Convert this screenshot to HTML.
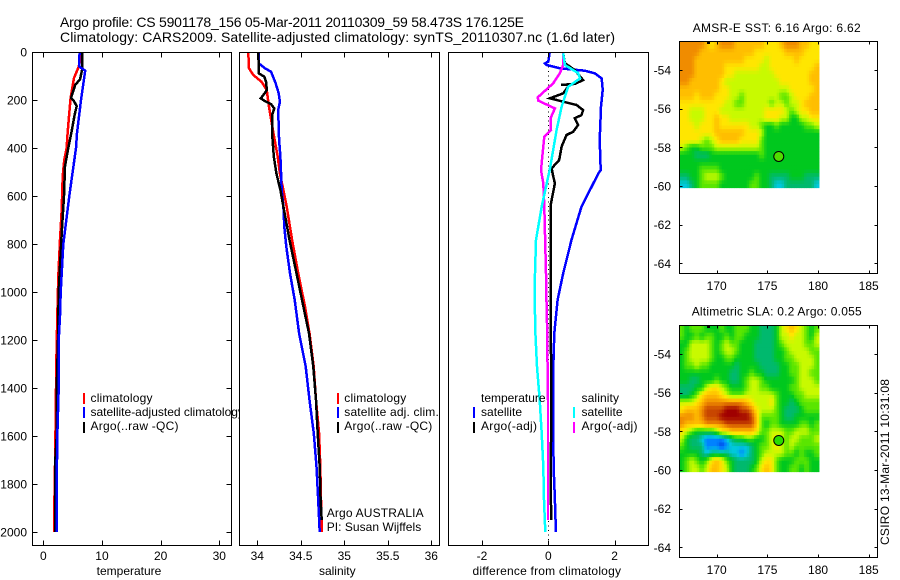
<!DOCTYPE html>
<html lang="en">
<head>
<meta charset="utf-8">
<title>Argo profile comparison</title>
<style>
html,body{margin:0;padding:0;background:#fff;}
svg{display:block;}
text{font-family:"Liberation Sans",sans-serif;font-size:12px;fill:#000;}
</style>
</head>
<body>
<svg id="chart" xmlns="http://www.w3.org/2000/svg" width="900" height="580" viewBox="0 0 900 580">
  <text x="60" y="27" style="font-size:14px" textLength="464" lengthAdjust="spacing">Argo profile: CS 5901178_156 05-Mar-2011 20110309_59 58.473S 176.125E</text>
  <text x="60" y="42" style="font-size:14px" textLength="555" lengthAdjust="spacing">Climatology: CARS2009. Satellite-adjusted climatology: synTS_20110307.nc (1.6d later)</text>
  <text transform="translate(889,545) rotate(-90)" textLength="166" lengthAdjust="spacing">CSIRO 13-Mar-2011 10:31:08</text>
</svg>
<script>
// ---- depth axis ticks ----
const depthTicks = [0,200,400,600,800,1000,1200,1400,1600,1800,2000];
const tempTicks = [0,10,20,30];
const salTicks = [34,34.5,35,35.5,36];
const salTickLabels = ["34","34.5","35","35.5","36"];
const diffTicks = [-2,0,2];
const lonTicks = [170,175,180,185];
const latTicks = [-54,-56,-58,-60,-62,-64];

// ---- temperature panel ----
const tempClimDepth = [4,66,108,150,192,268,338,400,448,518,657,782,935,1100,1300,1650,1900,2000];
const tempClimValue = [6.64,5.97,5.23,4.94,4.66,4.38,4.15,3.98,3.58,3.3,3.13,2.85,2.56,2.39,2.22,2.05,1.88,1.88];
const tempSatDepth = [4,20,60,78,200,338,400,600,800,1000,1100,1200,1400,1600,1800,2000];
const tempSatValue = [6.25,6.08,6.08,7.15,6.42,5.74,5.57,4.43,3.41,2.96,2.85,2.62,2.62,2.38,2.28,2.28];
const tempArgoDepth = [4,70,115,136,192,205,226,260,338,400,476,600,755,893,1000,1200,1400,1600,1700,2000];
const tempArgoValue = [6.64,6.64,6.25,5.45,4.72,5.23,5.69,5.35,4.77,4.26,3.7,3.53,3.13,2.85,2.62,2.5,2.28,2.28,2.05,2.05];

// ---- salinity panel ----
const salClimDepth = [4,68,96,124,158,228,297,367,436,506,575,644,783,922,1061,1172,1311,1450,1589,1728,1866,2000];
const salClimValue = [33.897,33.905,33.954,34.05,34.108,34.134,34.166,34.2,34.234,34.26,34.3,34.338,34.4,34.47,34.548,34.6,34.648,34.675,34.71,34.724,34.732,34.744];
const salSatDepth = [4,47,68,82,130,172,207,242,367,436,575,644,728,811,922,1033,1172,1311,1450,1589,1728,1866,2000];
const salSatValue = [34.016,34.016,34.088,34.157,34.21,34.246,34.26,34.24,34.25,34.265,34.28,34.3,34.31,34.333,34.376,34.43,34.48,34.556,34.6,34.65,34.68,34.7,34.717];
const salArgoDepth = [4,89,103,124,158,179,193,203,217,235,263,339,436,506,575,644,783,922,1061,1172,1311,1450,1589,1728,1866,1950];
const salArgoValue = [34.012,34.018,34.08,34.1,34.11,34.07,34.04,34.08,34.157,34.195,34.17,34.17,34.19,34.22,34.265,34.3,34.37,34.45,34.53,34.594,34.644,34.675,34.694,34.717,34.728,34.74];

// ---- difference panel ----
const diffTempSatDepth = [4,40,47,54,68,78,89,110,158,228,367,492,506,561,644,783,922,1033,1172,1311,1589,1728,1866,2000];
const diffTempSatValue = [0.04,0,-0.1,-0.05,0.35,1.1,1.41,1.61,1.64,1.59,1.55,1.58,1.51,1.31,1,0.7,0.45,0.28,0.18,0.15,0.15,0.16,0.2,0.23];
const diffTempArgoDepth = [5,47,75,117,133,137,135,172,193,207,221,242,263,276,304,332,346,394,450,485,519,547,630,783,1061,1400,1500,1800,1950];
const diffTempArgoValue = [0.45,0.5,0.8,1.05,0.8,0.38,0.65,0.45,0.05,0.45,0.855,1.05,1,0.8,0.9,0.75,0.55,0.4,0.33,0.1,0.15,0.2,0.08,0.07,0.07,0.09,0.09,0.07,0.09];
const diffSalSatDepth = [5,54,88,110,145,228,325,485,644,783,922,1033,1172,1311,1450,1589,1728,1866,2000];
const diffSalSatValue = [0.45,0.5,0.9,0.955,0.6,0.4,0.25,0.05,-0.2,-0.37,-0.4,-0.41,-0.39,-0.34,-0.26,-0.2,-0.15,-0.13,-0.09];
const diffSalArgoDepth = [5,54,88,130,189,203,235,276,325,353,436,492,547,644,922,1061,1130,1450,1950];
const diffSalArgoValue = [0.45,0.45,0.35,0.15,-0.32,-0.3,0.2,0.07,0.08,-0.12,-0.18,-0.22,-0.15,-0.12,-0.07,-0.05,-0.04,-0.01,-0.01];

// ---- maps (colour class per cell, north to south, west to east) ----
const sstGrid = [
[9,9,9,9,9,8,7,8,9,9,9,8,8,8,8,8,8,7,7,7,8,9,9,9,8,8,7,7],
[9,9,9,9,8,8,8,8,8,8,8,8,8,8,8,7,7,7,7,7,7,8,8,8,8,7,7,7],
[9,9,9,8,8,8,8,8,8,8,8,8,8,7,7,7,7,6,7,7,7,7,7,8,7,7,7,7],
[9,9,9,8,8,8,8,8,8,7,7,7,7,7,7,7,6,6,7,7,7,7,7,7,7,7,7,8],
[9,9,9,8,8,8,8,8,8,7,7,6,6,6,6,6,6,6,6,7,7,7,7,7,7,7,8,8],
[9,9,8,8,8,8,8,8,7,6,6,6,6,6,6,6,6,6,6,6,7,7,7,7,7,7,8,8],
[8,8,8,8,8,8,8,8,7,7,6,6,6,6,6,6,6,6,6,6,6,6,7,7,7,7,7,8],
[8,8,8,7,8,8,8,7,7,7,6,6,5,6,6,6,6,6,6,6,5,5,6,7,7,7,8,8],
[7,7,7,7,7,7,7,7,7,6,6,5,5,6,6,6,6,6,5,6,6,5,6,6,7,8,8,8],
[7,7,6,6,6,7,7,7,6,6,6,6,6,6,6,6,6,7,7,7,7,6,5,6,7,7,8,8],
[7,7,6,6,6,7,7,8,7,7,6,6,6,6,6,6,6,7,7,7,6,6,4,4,6,6,7,7],
[7,7,7,6,7,7,7,8,7,7,7,7,7,7,6,6,5,4,4,5,4,4,4,4,4,5,5,6],
[7,7,7,7,7,7,7,8,8,8,8,8,8,7,7,7,6,4,4,4,4,4,4,4,4,4,4,4],
[7,7,7,7,6,5,6,7,8,8,8,8,7,7,7,7,5,4,4,4,4,4,4,4,4,4,4,4],
[6,5,4,4,5,5,5,6,6,6,6,6,6,6,6,6,5,4,4,4,4,4,4,4,4,4,4,4],
[4,4,4,3,3,3,4,4,4,4,4,4,4,4,4,4,5,4,4,4,4,4,4,4,4,4,4,4],
[4,4,4,4,4,4,4,4,4,4,4,4,4,4,4,4,4,4,4,4,4,4,4,4,4,4,4,4],
[4,4,4,4,5,5,5,5,4,4,4,4,4,4,4,4,4,4,4,4,4,4,4,4,4,4,4,4],
[3,3,4,4,5,6,6,6,5,4,4,4,4,4,4,5,4,4,3,3,3,3,4,4,4,3,3,3],
[2,2,3,4,5,5,5,5,4,4,4,4,4,4,5,5,4,4,3,2,2,3,3,3,3,3,3,2]
];
const slaGrid = [
[5,4,5,5,5,4,4,4,5,4,4,5,5,5,4,4,3,3,3,4,6,7,8,7,6,5,4,5],
[5,4,4,5,4,5,5,4,4,5,4,5,5,4,4,4,3,3,3,4,6,6,7,6,6,5,4,6],
[4,4,6,6,6,6,5,4,5,6,5,5,4,4,4,3,3,3,3,4,5,6,6,6,6,5,5,6],
[4,5,6,6,6,6,5,4,5,6,6,5,4,4,4,3,3,3,3,4,4,5,6,6,6,6,5,5],
[4,5,6,6,6,6,5,4,4,5,5,4,4,4,4,3,3,3,3,4,4,5,5,6,6,6,6,5],
[4,5,5,6,5,5,4,4,4,4,4,3,4,4,4,4,3,3,3,3,4,4,5,5,6,6,6,5],
[4,4,4,4,4,4,4,4,4,4,3,3,4,4,5,4,4,3,3,3,4,4,5,5,6,6,5,5],
[4,4,3,3,4,4,4,5,4,4,3,3,4,5,6,6,5,4,4,4,4,4,4,5,6,6,6,5],
[3,3,3,4,4,6,7,7,6,5,4,4,4,5,6,6,5,5,4,4,4,4,5,5,6,6,6,6],
[3,3,4,5,7,8,8,8,7,6,5,5,5,6,6,6,6,6,6,5,4,4,4,5,5,6,6,6],
[6,6,6,7,8,9,9,9,9,9,9,9,9,8,7,6,6,6,7,5,4,4,3,4,5,5,5,5],
[7,8,8,8,9,10,10,10,10,11,11,11,10,10,9,7,6,6,6,5,4,3,3,3,4,5,5,5],
[9,9,9,8,9,10,10,10,11,11,11,11,11,11,10,8,5,5,5,5,4,3,3,4,4,4,4,4],
[9,8,8,8,8,9,9,9,9,10,10,10,10,10,10,8,5,4,5,5,4,4,4,4,5,5,4,5],
[7,6,5,4,4,4,4,5,7,7,8,8,8,8,8,7,5,5,6,6,6,5,5,6,6,6,5,5],
[6,4,3,3,2,1,1,1,1,2,3,4,4,5,5,4,4,5,6,7,6,5,6,6,5,5,5,6],
[5,4,3,3,3,1,1,1,0,1,2,2,2,2,3,4,5,5,6,7,6,5,6,5,5,5,5,5],
[4,4,4,4,3,2,3,3,3,3,2,2,1,2,3,4,5,6,6,6,6,5,5,4,5,4,4,5],
[4,5,6,5,4,5,7,8,7,5,4,3,3,3,3,4,6,7,7,5,4,4,4,5,5,5,4,4],
[4,5,6,6,5,6,8,8,7,6,4,3,3,3,4,5,7,8,7,5,4,4,5,5,4,5,4,4]
];
const mapPaletteRgb = [[0,60,224],[0,130,255],[0,200,220],[0,185,110],[0,200,30],[90,230,0],[200,250,0],[255,230,0],[255,190,0],[240,140,0],[200,70,0],[160,0,0]];
const floatLon = 176.125;
const floatLat = -58.473;

// ---- helpers ----
const svg = document.getElementById('chart');
const NS = 'http://www.w3.org/2000/svg';
function linear(d0, d1, r0, r1) { return v => r0 + (v - d0) * (r1 - r0) / (d1 - d0); }
const depthY = linear(0, 2000, 52, 532);
function mk(tag, attrs, parent) {
  const el = document.createElementNS(NS, tag);
  for (const k in attrs) el.setAttribute(k, attrs[k]);
  (parent || svg).appendChild(el);
  return el;
}
function label(str, x, y, anchor, parent, fitWidth) {
  const t = mk('text', {x: x, y: y, 'text-anchor': anchor || 'start'}, parent);
  if (fitWidth) {
    t.setAttribute('textLength', fitWidth);
    t.setAttribute('lengthAdjust', 'spacing');
  }
  t.textContent = str;
  return t;
}
function profile(group, xScale, depths, values, colour, name) {
  const pts = depths.map((d, i) => xScale(values[i]).toFixed(1) + ',' + depthY(d).toFixed(1)).join(' ');
  const el = mk('polyline', {points: pts, fill: 'none', stroke: colour, 'stroke-width': 2.5, 'stroke-linejoin': 'miter', 'shape-rendering': 'crispEdges'}, group);
  
  
}
function swatch(group, x, y, colour, name) {
  const el = mk('rect', {x: x, y: y, width: 2, height: 11, fill: colour}, group);
  
  
}
function legendText(group, str, x, y, name, fitWidth) {
  const el = label(str, x, y, 'start', group, fitWidth);
  
  
}
function tickMark(group, x1, y1, x2, y2) {
  const el = mk('line', {x1: x1, y1: y1, x2: x2, y2: y2, stroke: '#000', 'stroke-width': 1, 'shape-rendering': 'crispEdges'}, group);
  
  
}
function profileAxes(group, x, w, xScale, ticks, tickLabels, title, titleX, yTicks, titleFit) {
  const top = 52.5, bottom = 545.5;
  const frame = mk('rect', {x: x, y: top, width: w, height: bottom - top, fill: 'none', stroke: '#000', 'stroke-width': 1, 'shape-rendering': 'crispEdges'}, group);
  
  
  ticks.forEach((t, i) => {
    const px = Math.round(xScale(t)) + 0.5;
    tickMark(group, px, top, px, top + 5);
    tickMark(group, px, bottom, px, bottom - 5);
    const tl = label(tickLabels[i], xScale(t), 560, 'middle', group);
    
    
  });
  if (yTicks) {
    depthTicks.forEach(d => {
      const py = Math.round(depthY(d)) + 0.5;
      tickMark(group, x, py, x + 5, py);
      tickMark(group, x + w, py, x + w - 5, py);
      const yl = label(String(d), 27, depthY(d) + 4.5, 'end', group);
      
      
    });
  }
  const at = label(title, titleX, 575, 'middle', group, titleFit);
  
  
}
function panelBackground(group, x, w) {
  const bg = mk('rect', {x: x, y: 52.5, width: w, height: 493, fill: '#fff'}, group);
  
  
}

// ---- temperature panel ----
const tempX = linear(0, 30, 43.3, 219.3);
const gT = mk('g', {});


panelBackground(gT, 32.5, 199);
profile(gT, tempX, tempClimDepth, tempClimValue, '#ff0000', 'temperature-climatology-line');
profile(gT, tempX, tempArgoDepth, tempArgoValue, '#000000', 'temperature-argo-line');
profile(gT, tempX, tempSatDepth, tempSatValue, '#0000ff', 'temperature-satellite-line');
profileAxes(gT, 32.5, 199, tempX, tempTicks, tempTicks.map(String), 'temperature', 129, true);
swatch(gT, 83, 393, '#ff0000', 'legend-swatch-climatology');
swatch(gT, 83, 407, '#0000ff', 'legend-swatch-satellite');
swatch(gT, 83, 422, '#000000', 'legend-swatch-argo');
legendText(gT, 'climatology', 90.5, 402, 'legend-entry-climatology', 62);
legendText(gT, 'satellite-adjusted climatology', 90.5, 416, 'legend-entry-satellite');
legendText(gT, 'Argo(..raw -QC)', 90.5, 430, 'legend-entry-argo', 88);

// ---- salinity panel ----
const salX = linear(34, 36, 257.3, 431.3);
const gS = mk('g', {});


panelBackground(gS, 239.5, 200);
profile(gS, salX, salClimDepth, salClimValue, '#ff0000', 'salinity-climatology-line');
profile(gS, salX, salSatDepth, salSatValue, '#0000ff', 'salinity-satellite-line');
profile(gS, salX, salArgoDepth, salArgoValue, '#000000', 'salinity-argo-line');
profileAxes(gS, 239.5, 200, salX, salTicks, salTickLabels, 'salinity', 337.3, false);
swatch(gS, 337, 393, '#ff0000', 'legend-swatch-climatology');
swatch(gS, 337, 407, '#0000ff', 'legend-swatch-satellite');
swatch(gS, 337, 422, '#000000', 'legend-swatch-argo');
legendText(gS, 'climatology', 344.3, 402, 'legend-entry-climatology', 62);
legendText(gS, 'satellite adj. clim.', 344.3, 416, 'legend-entry-satellite', 94.5);
legendText(gS, 'Argo(..raw -QC)', 344.3, 430, 'legend-entry-argo', 88);
legendText(gS, 'Argo AUSTRALIA', 326.7, 517, 'data-centre-label', 97);
legendText(gS, 'PI: Susan Wijffels', 326.7, 531, 'principal-investigator-label', 94.5);

// ---- difference panel ----
const diffX = linear(-2, 2, 482, 614.6);
const gD = mk('g', {});


panelBackground(gD, 448.5, 200);
const zeroLine = mk('line', {x1: Math.round(diffX(0)) + 0.5, y1: 53, x2: Math.round(diffX(0)) + 0.5, y2: 545, stroke: '#000', 'stroke-width': 1, 'stroke-dasharray': '1 3.5'}, gD);


profile(gD, diffX, diffTempSatDepth, diffTempSatValue, '#0000ff', 'difference-temperature-satellite-line');
profile(gD, diffX, diffTempArgoDepth, diffTempArgoValue, '#000000', 'difference-temperature-argo-line');
profile(gD, diffX, diffSalArgoDepth, diffSalArgoValue, '#ff00ff', 'difference-salinity-argo-line');
profile(gD, diffX, diffSalSatDepth, diffSalSatValue, '#00ffff', 'difference-salinity-satellite-line');
profileAxes(gD, 448.5, 200, diffX, diffTicks, diffTicks.map(String), 'difference from climatology', 546.7, false, 148.5);
legendText(gD, 'temperature', 481, 402, 'legend-heading-temperature', 64.5);
legendText(gD, 'satellite', 481, 416, 'legend-entry-temperature-satellite', 41);
legendText(gD, 'Argo(-adj)', 481, 430, 'legend-entry-temperature-argo', 56);
legendText(gD, 'salinity', 581.5, 402, 'legend-heading-salinity', 37.5);
legendText(gD, 'satellite', 581.5, 416, 'legend-entry-salinity-satellite', 41);
legendText(gD, 'Argo(-adj)', 581.5, 430, 'legend-entry-salinity-argo', 56);
swatch(gD, 473, 407, '#0000ff', 'legend-swatch-temperature-satellite');
swatch(gD, 473, 422, '#000000', 'legend-swatch-temperature-argo');
swatch(gD, 573, 407, '#00ffff', 'legend-swatch-salinity-satellite');
swatch(gD, 573, 422, '#ff00ff', 'legend-swatch-salinity-argo');

// ---- maps ----
const lonX = linear(170, 185, 716.7, 868.7);
const gridLonWest = 166.31, gridLonEast = 180.1, gridLatNorth = -52.52, gridLatSouth = -60.09;
const subCells = 2;
function colourFor(v) {
  const i = Math.max(0, Math.min(mapPaletteRgb.length - 2, Math.floor(v)));
  const f = Math.max(0, Math.min(1, v - i));
  const a = mapPaletteRgb[i], b = mapPaletteRgb[i + 1];
  return 'rgb(' + a.map((c, k) => Math.round(c + (b[k] - c) * f)).join(',') + ')';
}
function sampleGrid(grid, rowPos, colPos) {
  const nR = grid.length, nC = grid[0].length;
  const r = Math.max(0, Math.min(nR - 1, rowPos - 0.5)), c = Math.max(0, Math.min(nC - 1, colPos - 0.5));
  const r0 = Math.floor(r), c0 = Math.floor(c);
  const r1 = Math.min(nR - 1, r0 + 1), c1 = Math.min(nC - 1, c0 + 1);
  const fr = r - r0, fc = c - c0;
  return (grid[r0][c0] * (1 - fc) + grid[r0][c1] * fc) * (1 - fr) + (grid[r1][c0] * (1 - fc) + grid[r1][c1] * fc) * fr;
}
function drawMap(grid, offset, title, titleY, titleFit, markerFill, name) {
  const latY = linear(-54, -64, 70 + offset, 263.3 + offset);
  const g = mk('g', {});
  
  
  const nR = grid.length * subCells, nC = grid[0].length * subCells;
  const dLon = (gridLonEast - gridLonWest) / nC, dLat = (gridLatNorth - gridLatSouth) / nR;
  for (let r = 0; r < nR; r++) {
    for (let c = 0; c < nC; c++) {
      const v = sampleGrid(grid, (r + 0.5) / subCells, (c + 0.5) / subCells);
      const x0 = lonX(gridLonWest + c * dLon), x1 = lonX(gridLonWest + (c + 1) * dLon);
      const y0 = latY(gridLatNorth - r * dLat), y1 = latY(gridLatNorth - (r + 1) * dLat);
      const cell = mk('rect', {x: x0.toFixed(2), y: y0.toFixed(2), width: (x1 - x0 + 0.4).toFixed(2), height: (y1 - y0 + 0.4).toFixed(2), fill: colourFor(v)}, g);
      
      
    }
  }
  const top = 41.5 + offset, bottom = 273.5 + offset, left = 679.5, right = 877.5;
  const frame = mk('rect', {x: left, y: top, width: right - left, height: bottom - top, fill: 'none', stroke: '#000', 'stroke-width': 1, 'shape-rendering': 'crispEdges'}, g);
  
  
  lonTicks.forEach(t => {
    const px = Math.round(lonX(t)) + 0.5;
    tickMark(g, px, top, px, top + 3);
    tickMark(g, px, bottom, px, bottom - 3);
    const tl = label(String(t), lonX(t), bottom + 16.5, 'middle', g);
    
    
  });
  latTicks.forEach(t => {
    const py = Math.round(latY(t)) + 0.5;
    tickMark(g, left, py, left + 3, py);
    tickMark(g, right, py, right - 3, py);
    const tl = label(String(t), 671, latY(t) + 4.5, 'end', g);
    
    
  });
  const mt = label(title, 776.7, titleY, 'middle', g, titleFit);
  
  
  const marker = mk('circle', {cx: lonX(floatLon), cy: latY(floatLat), r: 5, fill: markerFill, stroke: '#000', 'stroke-width': 1}, g);
  
  
  const edgeDot = mk('rect', {x: 707, y: top + 0.5, width: 3, height: 2, fill: '#000'}, g);
  
  
}
drawMap(sstGrid, 0, 'AMSR-E SST: 6.16 Argo: 6.62', 32, 168, '#50dc00', 'sst-map');
drawMap(slaGrid, 284, 'Altimetric SLA: 0.2 Argo: 0.055', 315.5, 170, '#28dc00', 'sla-map');
</script>
</body>
</html>
